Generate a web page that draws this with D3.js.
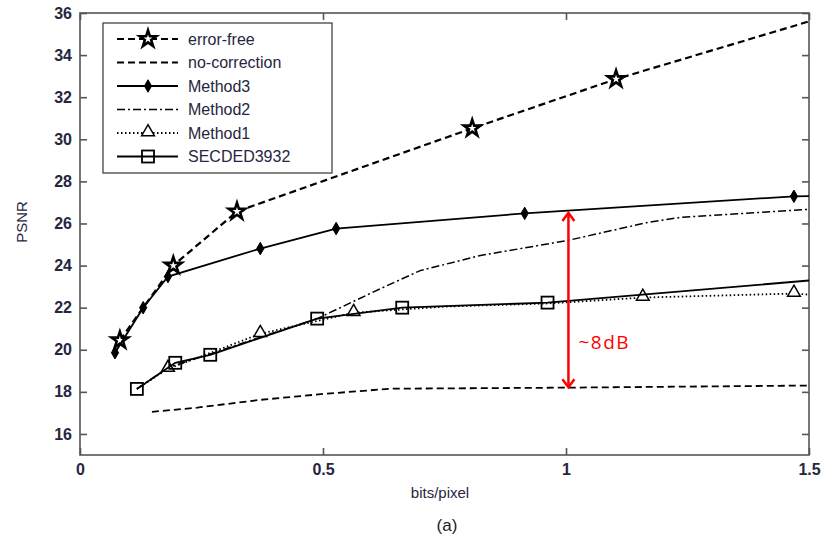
<!DOCTYPE html>
<html>
<head>
<meta charset="utf-8">
<script src="https://cdn.jsdelivr.net/npm/d3@7"></script>
<style>
  body { margin: 0; background: #fff; }
  svg text { font-family: "Liberation Sans", Arial, sans-serif; }
</style>
</head>
<body>
<div id="chart"></div>
<script>
// data (x = bits/pixel, y = PSNR)
var xTicks = [0, 0.5, 1, 1.5];
var xTickLabels = ["0", "0.5", "1", "1.5"];
var yTicks = [16, 18, 20, 22, 24, 26, 28, 30, 32, 34, 36];

var errorFree = [[0.082, 20.45], [0.192, 24.0], [0.323, 26.57], [0.807, 30.52], [1.103, 32.86], [1.5, 35.6]];
var errorFreeMarks = [[0.082, 20.45], [0.192, 24.0], [0.323, 26.57], [0.807, 30.52], [1.103, 32.86]];

var noCorrection = [[0.148, 17.05], [0.241, 17.25], [0.371, 17.62], [0.5, 17.9], [0.64, 18.15], [1.0, 18.2], [1.5, 18.3]];

var method3 = [[0.072, 19.86], [0.130, 22.0], [0.181, 23.48], [0.371, 24.81], [0.527, 25.76], [0.915, 26.48], [1.469, 27.29], [1.5, 27.3]];
var method3Marks = [[0.072, 19.86], [0.130, 22.0], [0.181, 23.48], [0.371, 24.81], [0.527, 25.76], [0.915, 26.48], [1.469, 27.29]];

var method2 = [[0.117, 18.14], [0.181, 19.15], [0.268, 19.8], [0.371, 20.6], [0.488, 21.48], [0.618, 22.9], [0.70, 23.76], [0.824, 24.48], [1.003, 25.19], [1.168, 26.05], [1.236, 26.29], [1.5, 26.67]];

var method1 = [[0.117, 18.14], [0.181, 19.1], [0.268, 19.85], [0.371, 20.76], [0.563, 21.76], [0.75, 22.05], [0.962, 22.2], [1.158, 22.48], [1.469, 22.67], [1.5, 22.62]];
var method1Marks = [[0.181, 19.1], [0.371, 20.76], [0.563, 21.76], [1.158, 22.48], [1.469, 22.67]];

var secded = [[0.117, 18.14], [0.196, 19.38], [0.268, 19.76], [0.488, 21.48], [0.663, 22.0], [0.962, 22.24], [1.5, 23.29]];
var secdedMarks = [[0.117, 18.14], [0.196, 19.38], [0.268, 19.76], [0.488, 21.48], [0.663, 22.0], [0.962, 22.24]];

var gapX = 1.005, gapLow = 18.22, gapHigh = 26.5;

var width = 822, height = 539;
var plotLeft = 80, plotRight = 809, plotTop = 13, plotBottom = 455;

var svg = d3.select("#chart").append("svg")
    .attr("width", width)
    .attr("height", height);

var x = d3.scaleLinear().domain([0, 1.5]).range([plotLeft, plotRight]);
var y = d3.scaleLinear().domain([15, 36]).range([plotBottom, plotTop]);

var axisColor = "#555";
var textColor = "#262640";

// box
svg.append("rect")
    .attr("x", plotLeft).attr("y", plotTop)
    .attr("width", plotRight - plotLeft).attr("height", plotBottom - plotTop)
    .attr("fill", "none").attr("stroke", axisColor).attr("stroke-width", 1.6);

// axes with inward ticks
var yAxisL = d3.axisLeft(y).tickValues(yTicks).tickSize(-7).tickPadding(8);
var yAxisR = d3.axisRight(y).tickValues(yTicks).tickSize(-7).tickFormat("");
var xAxisB = d3.axisBottom(x).tickValues(xTicks).tickSize(-7).tickPadding(9)
    .tickFormat(function(d, i) { return xTickLabels[i]; });
var xAxisT = d3.axisTop(x).tickValues(xTicks).tickSize(-7).tickFormat("");

function styleAxis(g) {
  g.select(".domain").remove();
  g.selectAll(".tick line").attr("stroke", axisColor).attr("stroke-width", 1.6);
  g.selectAll(".tick text").attr("fill", textColor).attr("font-size", 16)
      .attr("font-weight", "bold").style("font-family", "'Liberation Sans', Arial, sans-serif");
}

svg.append("g").attr("transform", "translate(" + plotLeft + ",0)").call(yAxisL).call(styleAxis);
svg.append("g").attr("transform", "translate(" + plotRight + ",0)").call(yAxisR).call(styleAxis);
svg.append("g").attr("transform", "translate(0," + plotBottom + ")").call(xAxisB).call(styleAxis);
svg.append("g").attr("transform", "translate(0," + plotTop + ")").call(xAxisT).call(styleAxis);

// axis labels
svg.append("text")
    .attr("transform", "translate(27," + 222 + ") rotate(-90)")
    .attr("text-anchor", "middle")
    .attr("font-size", 15)
    .attr("fill", textColor)
    .text("PSNR");

svg.append("text")
    .attr("x", 440).attr("y", 498)
    .attr("text-anchor", "middle")
    .attr("font-size", 15)
    .attr("fill", textColor)
    .text("bits/pixel");

svg.append("text")
    .attr("x", 447).attr("y", 531)
    .attr("text-anchor", "middle")
    .attr("font-size", 17)
    .attr("fill", "#222")
    .text("(a)");

var line = d3.line()
    .x(function(d) { return x(d[0]); })
    .y(function(d) { return y(d[1]); });

var series = [
  {name: "error-free", data: errorFree, marks: errorFreeMarks, dash: "7,4", w: 2.2, sym: "star"},
  {name: "no-correction", data: noCorrection, marks: [], dash: "7,4", w: 1.8, sym: null},
  {name: "Method3", data: method3, marks: method3Marks, dash: null, w: 1.8, sym: "diamond"},
  {name: "Method2", data: method2, marks: [], dash: "8,3,2,3", w: 1.5, sym: null},
  {name: "Method1", data: method1, marks: method1Marks, dash: "1.5,2.5", w: 1.8, sym: "triangle"},
  {name: "SECDED3932", data: secded, marks: secdedMarks, dash: null, w: 1.8, sym: "square"}
];

function drawMarker(g, sym, cx, cy) {
  if (sym == "star") {
    g.append("path")
        .attr("d", d3.symbol().type(d3.symbolStar).size(85)())
        .attr("transform", "translate(" + cx + "," + cy + ")")
        .attr("fill", "#fff").attr("stroke", "#000").attr("stroke-width", 2.6)
        .attr("stroke-linejoin", "miter");
  } else if (sym == "diamond") {
    g.append("path")
        .attr("d", d3.symbol().type(d3.symbolDiamond).size(45)())
        .attr("transform", "translate(" + cx + "," + cy + ")")
        .attr("fill", "#000").attr("stroke", "#000").attr("stroke-width", 1);
  } else if (sym == "triangle") {
    g.append("path")
        .attr("d", d3.symbol().type(d3.symbolTriangle).size(70)())
        .attr("transform", "translate(" + cx + "," + (cy - 1) + ")")
        .attr("fill", "#fff").attr("stroke", "#000").attr("stroke-width", 1.5);
  } else if (sym == "square") {
    g.append("rect")
        .attr("x", cx - 6).attr("y", cy - 6)
        .attr("width", 12).attr("height", 12)
        .attr("fill", "none").attr("stroke", "#000").attr("stroke-width", 1.8);
  }
}

var plot = svg.append("g");

series.forEach(function(s) {
  plot.append("path")
      .datum(s.data)
      .attr("d", line)
      .attr("fill", "none")
      .attr("stroke", "#000")
      .attr("stroke-width", s.w)
      .attr("stroke-dasharray", s.dash);
  s.marks.forEach(function(p) {
    drawMarker(plot, s.sym, x(p[0]), y(p[1]));
  });
});

// red gap arrow
var red = "#f00";
var ax = x(gapX), ay1 = y(gapHigh), ay2 = y(gapLow);
svg.append("line")
    .attr("x1", ax).attr("x2", ax).attr("y1", ay1 + 1).attr("y2", ay2 - 1)
    .attr("stroke", red).attr("stroke-width", 2.5);
svg.append("path")
    .attr("d", "M" + (ax - 6) + "," + (ay1 + 8) + "L" + ax + "," + ay1 + "L" + (ax + 6) + "," + (ay1 + 8))
    .attr("fill", "none").attr("stroke", red).attr("stroke-width", 2.5);
svg.append("path")
    .attr("d", "M" + (ax - 6) + "," + (ay2 - 8) + "L" + ax + "," + ay2 + "L" + (ax + 6) + "," + (ay2 - 8))
    .attr("fill", "none").attr("stroke", red).attr("stroke-width", 2.5);
svg.append("text")
    .attr("x", ax + 10).attr("y", 349)
    .attr("font-size", 19)
    .attr("letter-spacing", 1.5)
    .attr("fill", red)
    .style("font-family", "'Open Sans', 'Noto Sans', sans-serif")
    .text("~8dB");

// legend
var lg = svg.append("g");
lg.append("rect")
    .attr("x", 103).attr("y", 23)
    .attr("width", 229).attr("height", 150)
    .attr("fill", "#fff").attr("stroke", "#444").attr("stroke-width", 1.3);

series.forEach(function(s, i) {
  var ly = 39 + i * 23.5;
  lg.append("line")
      .attr("x1", 117).attr("x2", 178).attr("y1", ly).attr("y2", ly)
      .attr("stroke", "#000").attr("stroke-width", s.w)
      .attr("stroke-dasharray", s.dash);
  if (s.sym) drawMarker(lg, s.sym, 148, ly);
  lg.append("text")
      .attr("x", 188).attr("y", ly + 5.5)
      .attr("font-size", 16)
      .attr("fill", textColor)
      .text(s.name);
});
</script>
</body>
</html>
